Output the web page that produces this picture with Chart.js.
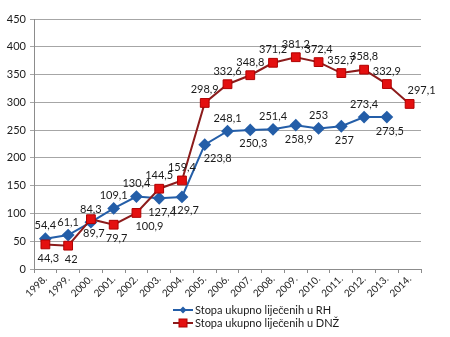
<!DOCTYPE html>
<html lang="hr">
<head>
    <meta charset="UTF-8">
    <title>Stopa ukupno liječenih</title>
    <script src="https://cdn.jsdelivr.net/npm/chart.js"></script>
    <style>
        body {
            margin: 0;
            background-color: #fff;
        }
        .wrap {
            width: 450px;
            height: 337px;
            position: relative;
        }
    </style>
</head>
<body>

<div class="wrap">
    <canvas id="chart" width="450" height="337"></canvas>
</div>

<script>
const years = ['1998.', '1999.', '2000.', '2001.', '2002.', '2003.', '2004.', '2005.', '2006.',
    '2007.', '2008.', '2009.', '2010.', '2011.', '2012.', '2013.', '2014.'];

const stopaRH = [54.4, 61.1, 84.3, 109.1, 130.4, 127.4, 129.7, 223.8, 248.1, 250.3, 251.4,
    258.9, 253, 257, 273.4, 273.5, null];

const stopaDNZ = [44.3, 42, 89.7, 79.7, 100.9, 144.5, 159.4, 298.9, 332.6, 348.8, 371.2,
    381.2, 372.4, 352.7, 358.8, 332.9, 297.1];

const yTicks = [0, 50, 100, 150, 200, 250, 300, 350, 400, 450];

// gdje stoji oznaka vrijednosti: a = iznad, b = ispod, br = ispod desno, ar = iznad desno
const labelPosRH = ['a', 'a', 'a', 'a', 'a', 'b', 'b', 'br', 'a', 'b', 'a', 'b', 'a', 'b', 'a', 'b', 'a'];
const labelPosDNZ = ['b', 'b', 'b', 'b', 'br', 'a', 'a', 'a', 'a', 'a', 'a', 'a', 'a', 'a', 'a', 'a', 'ar'];

const FONT = 'Lato, "Noto Sans", sans-serif';
const BLUE = '#245ea8';
const RED_LINE = '#8c1c1c';
const RED_FILL = '#e41010';

// oznake vrijednosti uz točke
const valueLabels = {
    id: 'valueLabels',
    afterDatasetsDraw(chart) {
        const ctx = chart.ctx;
        ctx.save();
        ctx.font = '11px ' + FONT;
        ctx.fillStyle = '#1a1a1a';
        ctx.textAlign = 'center';
        ctx.textBaseline = 'middle';
        chart.data.datasets.forEach((ds, i) => {
            const pos = i === 0 ? labelPosRH : labelPosDNZ;
            chart.getDatasetMeta(i).data.forEach((pt, j) => {
                const v = ds.data[j];
                if (v === null) return;
                let x = pt.x, y = pt.y;
                const p = pos[j];
                if (p === 'a') y -= 13;
                if (p === 'b') { y += 14; x += 3; }
                if (p === 'br') { y += 14; x += 13; }
                if (p === 'ar') { y -= 13; x += 12; }
                ctx.fillText(String(v).replace('.', ','), x, y);
            });
        });
        ctx.restore();
    }
};

// legenda ispod grafa, dvije linije
const legendBelow = {
    id: 'legendBelow',
    afterDraw(chart) {
        const ctx = chart.ctx;
        ctx.save();
        ctx.font = '11px ' + FONT;
        ctx.textBaseline = 'middle';
        ctx.fillStyle = '#1a1a1a';
        const rows = [310, 323];
        chart.data.datasets.forEach((ds, i) => {
            const y = rows[i];
            const x0 = 173;
            ctx.strokeStyle = ds.borderColor;
            ctx.lineWidth = 2;
            ctx.beginPath();
            ctx.moveTo(x0, y);
            ctx.lineTo(x0 + 20, y);
            ctx.stroke();
            ctx.fillStyle = ds.pointBackgroundColor;
            ctx.strokeStyle = ds.pointBorderColor;
            ctx.lineWidth = 1;
            if (i === 0) {
                ctx.beginPath();
                ctx.moveTo(x0 + 10, y - 3.5);
                ctx.lineTo(x0 + 13.5, y);
                ctx.lineTo(x0 + 10, y + 3.5);
                ctx.lineTo(x0 + 6.5, y);
                ctx.closePath();
                ctx.fill();
            } else {
                ctx.fillRect(x0 + 6, y - 4, 8, 8);
                ctx.strokeRect(x0 + 6, y - 4, 8, 8);
            }
            ctx.fillStyle = '#1a1a1a';
            ctx.fillText(ds.label, x0 + 22, y);
        });
        ctx.restore();
    }
};

new Chart(document.getElementById('chart'), {
    type: 'line',
    data: {
        labels: years,
        datasets: [{
            label: 'Stopa ukupno liječenih u RH',
            data: stopaRH,
            order: 2,
            borderColor: BLUE,
            backgroundColor: BLUE,
            pointBackgroundColor: BLUE,
            pointBorderColor: BLUE,
            pointStyle: 'rectRot',
            pointRadius: 5,
            borderWidth: 2,
            tension: 0
        }, {
            label: 'Stopa ukupno liječenih u DNŽ',
            data: stopaDNZ,
            order: 1,
            borderColor: RED_LINE,
            backgroundColor: RED_FILL,
            pointBackgroundColor: RED_FILL,
            pointBorderColor: '#b00000',
            pointStyle: 'rect',
            pointRadius: 6.2,
            pointBorderWidth: 1,
            borderWidth: 2,
            tension: 0
        }]
    },
    options: {
        responsive: false,
        animation: false,
        events: [],
        layout: {
            padding: { top: 19, right: 29, left: 0, bottom: 0 }
        },
        plugins: {
            legend: { display: false },
            tooltip: { enabled: false }
        },
        scales: {
            x: {
                offset: true,
                grid: {
                    display: true,
                    drawOnChartArea: false,
                    offset: true,
                    tickLength: 4,
                    color: '#8c8c8c'
                },
                border: { color: '#8c8c8c' },
                ticks: {
                    autoSkip: false,
                    maxRotation: 45,
                    minRotation: 45,
                    font: { family: FONT, size: 10 },
                    color: '#1a1a1a',
                    padding: 0
                },
                afterFit(scale) {
                    scale.height = 68;
                    scale.paddingLeft = 0;
                    scale.paddingRight = 0;
                }
            },
            y: {
                min: 0,
                max: 450,
                afterBuildTicks(scale) {
                    scale.ticks = yTicks.map(v => ({ value: v }));
                },
                grid: {
                    color: '#a6a6a6',
                    tickLength: 4,
                    drawTicks: true
                },
                border: { color: '#8c8c8c' },
                ticks: {
                    font: { family: FONT, size: 11 },
                    color: '#1a1a1a',
                    padding: 4
                },
                afterFit(scale) {
                    scale.width = 34;
                }
            }
        }
    },
    plugins: [valueLabels, legendBelow]
});
</script>

</body>
</html>
